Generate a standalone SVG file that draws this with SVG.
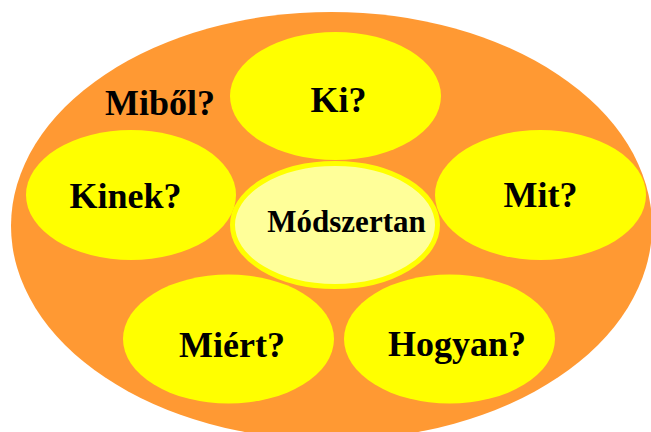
<svg xmlns="http://www.w3.org/2000/svg" width="651" height="432" viewBox="0 0 651 432">
<style>
.bg{fill:#FF9933}
.n{fill:#FFFF00}
.c{fill:#FFFF99;stroke:#FFFF00;stroke-width:5}
text{font-family:"Liberation Serif","Times New Roman",serif;font-weight:bold;fill:#000;text-anchor:middle}
.t{font-size:36px}
.tc{font-size:31px}
</style>
<rect width="651" height="432" fill="#FFFFFF"/>
<g id="outer"><ellipse class="bg" cx="331.5" cy="226" rx="320.5" ry="214"/></g>
<g id="connectors"></g>
<g id="ki"><ellipse class="n" cx="335.5" cy="96" rx="105.5" ry="64"/><text class="t" x="338.5" y="112">Ki?</text></g>
<g id="kinek"><ellipse class="n" cx="131" cy="195" rx="105" ry="65"/><text class="t" x="125.5" y="208">Kinek?</text></g>
<g id="mit"><ellipse class="n" cx="540.5" cy="195" rx="105.5" ry="65"/><text class="t" x="540.5" y="207">Mit?</text></g>
<g id="miert"><ellipse class="n" cx="228.5" cy="339" rx="105.5" ry="64.5"/><text class="t" x="232" y="357">Miért?</text></g>
<g id="hogyan"><ellipse class="n" cx="449.5" cy="339" rx="105.5" ry="64.5"/><text class="t" x="457" y="356">Hogyan?</text></g>
<g id="modszertan"><ellipse class="c" cx="335" cy="225" rx="102.5" ry="61.5"/><text class="tc" x="346.5" y="232">Módszertan</text></g>
<g id="mibol"><text class="t" x="160" y="115">Miből?</text></g>
</svg>
